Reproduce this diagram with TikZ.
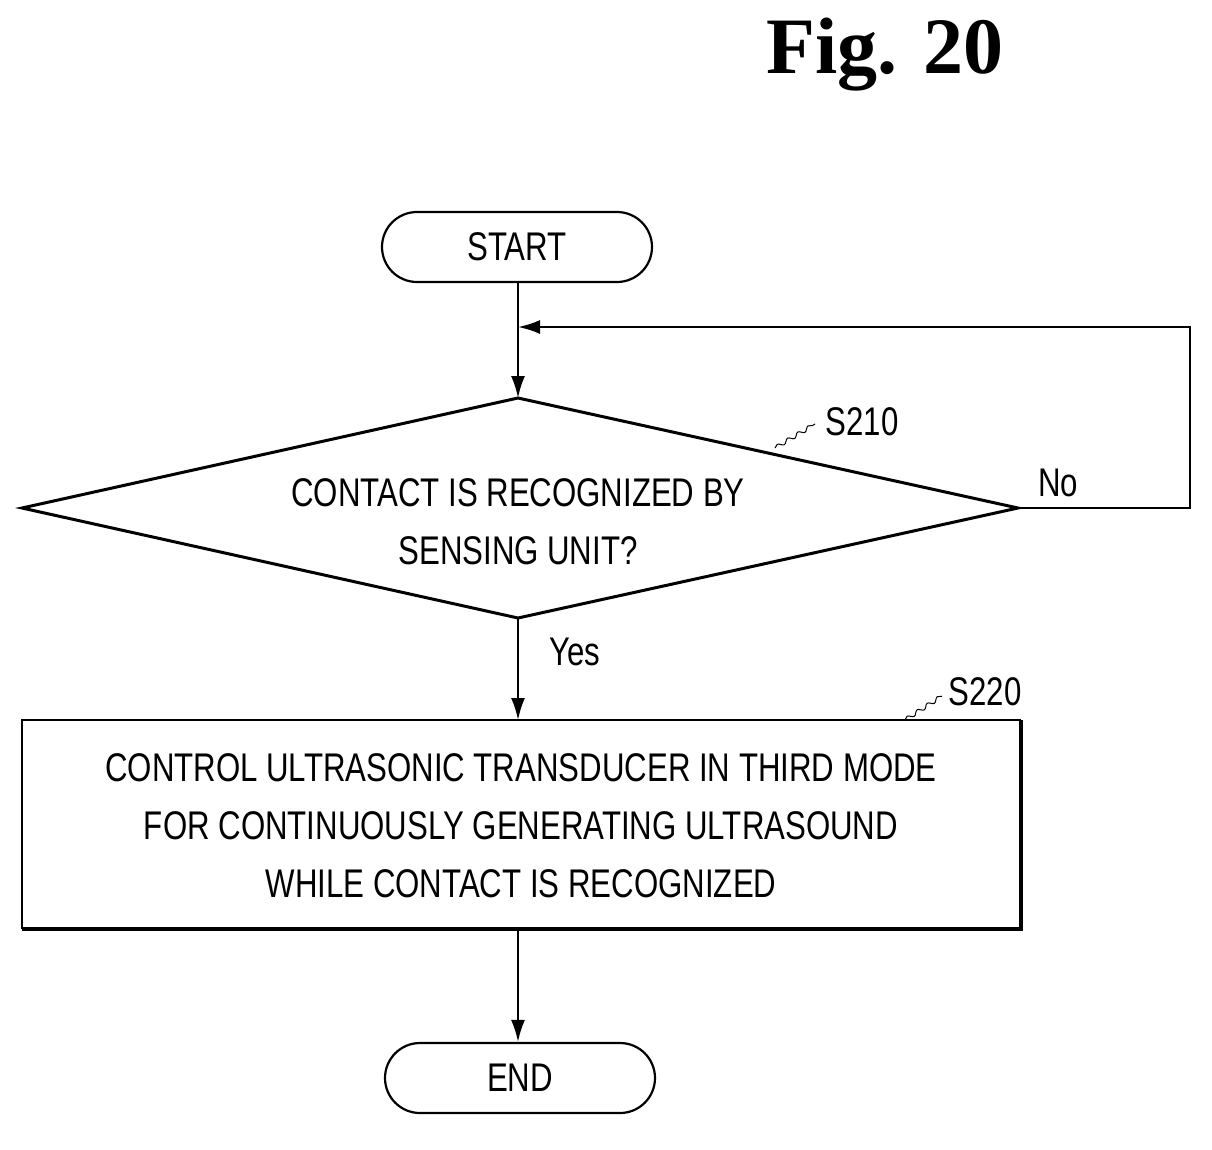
\documentclass[tikz,border=0pt]{standalone}
\usepackage{fontspec}
\setmainfont{Liberation Sans}[FakeStretch=0.78]
\newfontfamily\titlefont{Liberation Serif}
\usetikzlibrary{arrows.meta,shapes.geometric,decorations.pathmorphing}
\begin{document}
\begin{tikzpicture}[x=1pt,y=-1pt,line width=2.2pt,
  txt/.style={font=\fontsize{40}{58}\selectfont},
  term/.style={draw,rounded corners=35pt,minimum width=270pt,minimum height=70pt,txt},
  arr/.style={-{Latex[length=22pt,width=14pt]}},
  lead/.style={line width=1pt,decorate,decoration={snake,amplitude=2pt,segment length=12pt}}]
\useasboundingbox (0,0) rectangle (1212,1149);
\node[font=\titlefont\bfseries\fontsize{80}{90}\selectfont] (title) at (885,55) {Fig. 20};
\node[term] (start) at (517,247) {START};
\node[term] (end) at (520,1078) {END};
\coordinate (dt) at (518,398); \coordinate (db) at (518,618);
\coordinate (dl) at (22,508); \coordinate (dr) at (1018,508);
\draw[line width=3pt] (dt) -- (dr) -- (db) -- (dl) -- cycle;
\node[txt,align=center] (dtext) at (518,522) {CONTACT IS RECOGNIZED BY\\SENSING UNIT?};
\draw (22,720) rectangle (1020,928);
\draw[line width=4pt] (22,929) -- (1021,929) -- (1021,720);
\node[txt,align=center] (btext) at (521,826) {CONTROL ULTRASONIC TRANSDUCER IN THIRD MODE\\FOR CONTINUOUSLY GENERATING ULTRASOUND\\WHILE CONTACT IS RECOGNIZED};
\coordinate (bt) at (518,720); \coordinate (bb) at (518,929);
\coordinate (c1) at (1190,508); \coordinate (c2) at (1190,327); \coordinate (c3) at (518,327);
\draw[arr] (start.south -| dt) -- (dt);
\draw[arr] (dr) -- (c1) -- (c2) -- (c3);
\draw[arr] (db) -- (bt);
\draw[arr] (bb) -- (end.north -| bb);
\node[txt] (s210) at (862,422) {S210};
\node[txt] (s220) at (985,692) {S220};
\node[txt] (no) at (1058,483) {No};
\node[txt] (yes) at (575,652) {Yes};
\coordinate (l1) at (775,448); \coordinate (l2) at (815,424);
\coordinate (l3) at (905,720); \coordinate (l4) at (942,696);
\draw[lead] (l1) -- (l2);
\draw[lead] (l3) -- (l4);
\end{tikzpicture}
\end{document}
